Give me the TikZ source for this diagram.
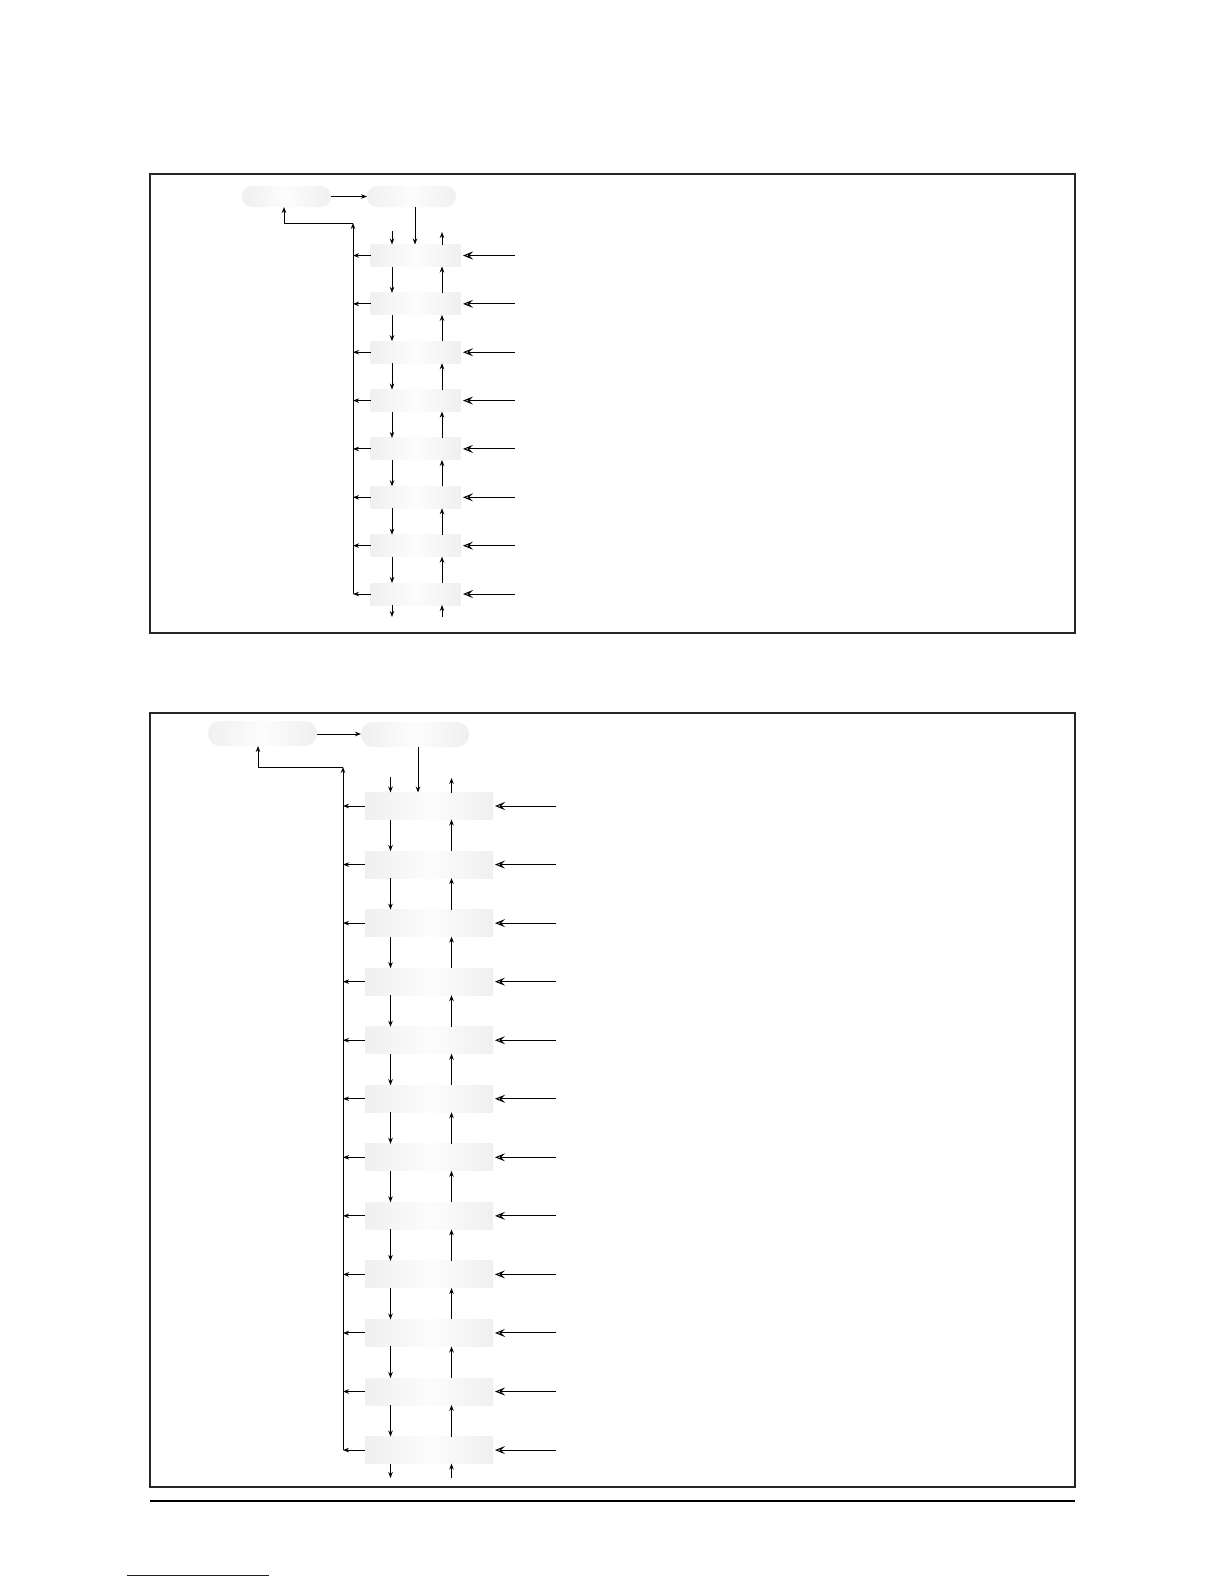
\documentclass[tikz,border=0pt]{standalone}
\usetikzlibrary{arrows.meta,calc}
\tikzset{
  box/.style={inner sep=0pt, outer sep=0pt, left color=gray!12, right color=gray!12, middle color=gray!2},
  rbox/.style={box},
  conn/.style={line width=1pt, black},
  arr/.style={conn, -{Stealth[length=6pt,width=4.5pt]}},
  inarr/.style={conn, -{Stealth[open,length=10pt,width=8pt,inset=4pt]}},
  framebox/.style={line width=1.6pt, draw=black!85}
}
\begin{document}
\begin{tikzpicture}[x=1pt,y=-1pt]
\useasboundingbox (0,0) rectangle (1224,1584);
\fill[white] (0,0) rectangle (1224,1584);

% ---------------- Diagram 1 ----------------
\draw[framebox] (150,174) rectangle (1075,633);
\node[rbox, rounded corners=10pt, minimum width=89pt, minimum height=21pt] (A1) at (286.5,196.5) {};
\node[rbox, rounded corners=10pt, minimum width=89pt, minimum height=21pt] (B1) at (411.5,196.5) {};
\draw[arr] (A1.east) -- (B1.west);
\coordinate (pd) at (392,0);
\coordinate (pu) at (442,0);
\coordinate (pbd) at (415,0);
\coordinate (pr) at (515,0);
\coordinate (pt) at (353,223);
\coordinate (pa) at (284,0);
\coordinate (ptd) at (392,231);
\coordinate (ptu) at (442,232);
\coordinate (pb) at (0,617);
\foreach \i in {1,...,8} {
  \node[box, minimum width=90pt, minimum height=22pt] (p\i) at (415.5,{255.5+48.36*(\i-1)}) {};
}
\foreach \i in {1,...,8} {
  \draw[arr] (p\i.west) -- (p\i.west -| pt);
  \draw[inarr, shorten >=2.5pt] (pr |- p\i.east) -- (p\i.east);
}
\foreach \i [evaluate=\i as \j using int(\i+1)] in {1,...,7} {
  \draw[arr] (p\i.south -| pd) -- (p\j.north -| pd);
  \draw[arr] (p\j.north -| pu) -- (p\i.south -| pu);
}
\draw[arr] (B1.south -| pbd) -- (p1.north -| pbd);
\draw[arr] (ptd) -- (p1.north -| ptd);
\draw[arr] (p1.north -| ptu) -- (ptu);
\draw[arr] (p8.south -| pd) -- (pd |- pb);
\draw[arr] (pu |- pb) -- (p8.south -| pu);
\draw[arr] (p8.west -| pt) -- (pt);
\draw[arr] (pt) -| (A1.south -| pa);

% ---------------- Diagram 2 ----------------
\draw[framebox] (150,713) rectangle (1075,1487);
\node[rbox, rounded corners=12pt, minimum width=109pt, minimum height=25pt] (A2) at (262.5,733.5) {};
\node[rbox, rounded corners=12pt, minimum width=108pt, minimum height=25pt] (B2) at (415,734.5) {};
\draw[arr] (A2.east |- 0,734) -- (B2.west |- 0,734);
\coordinate (qd) at (390.5,0);
\coordinate (qu) at (451.5,0);
\coordinate (qbd) at (418,0);
\coordinate (qr) at (556,0);
\coordinate (qt) at (343,767);
\coordinate (qa) at (258,0);
\coordinate (qtd) at (390.5,777);
\coordinate (qtu) at (451.5,778);
\coordinate (qb) at (0,1478);
\foreach \i in {1,...,12} {
  \node[box, minimum width=128pt, minimum height=27pt] (q\i) at (429,{806+58.55*(\i-1)}) {};
}
\foreach \i in {1,...,12} {
  \draw[arr] (q\i.west) -- (q\i.west -| qt);
  \draw[inarr, shorten >=2pt] (qr |- q\i.east) -- (q\i.east);
}
\foreach \i [evaluate=\i as \j using int(\i+1)] in {1,...,11} {
  \draw[arr] (q\i.south -| qd) -- (q\j.north -| qd);
  \draw[arr] (q\j.north -| qu) -- (q\i.south -| qu);
}
\draw[arr] (B2.south -| qbd) -- (q1.north -| qbd);
\draw[arr] (qtd) -- (q1.north -| qtd);
\draw[arr] (q1.north -| qtu) -- (qtu);
\draw[arr] (q12.south -| qd) -- (qd |- qb);
\draw[arr] (qu |- qb) -- (q12.south -| qu);
\draw[arr] (q12.west -| qt) -- (qt);
\draw[arr] (qt) -| (A2.south -| qa);

% ---------------- page rules ----------------
\coordinate (rl) at (150,1501);
\coordinate (rr) at (1075,1501);
\draw[line width=1.1pt] (rl) -- (rr);
\coordinate (ul) at (127,1575);
\coordinate (ur) at (269,1575);
\draw[line width=1pt, draw={rgb,255:red,20;green,20;blue,140}] (ul) -- (ur);
\end{tikzpicture}
\end{document}
